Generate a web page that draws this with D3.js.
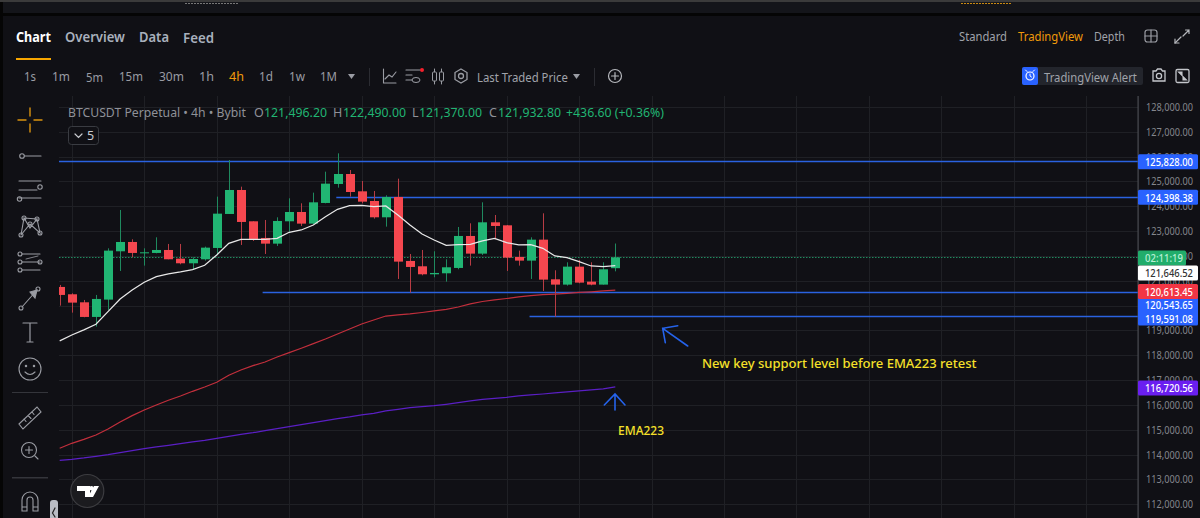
<!DOCTYPE html>
<html><head><meta charset="utf-8">
<script src="https://cdn.jsdelivr.net/npm/d3@7"></script>
<style>html,body{margin:0;padding:0;background:#101015;overflow:hidden}svg{display:block}text{font-family:"Noto Sans",sans-serif}</style>
</head><body><svg id="c" width="1200" height="518"></svg>
<script>
const opens=[120741,120446,120123,119533,120231,122177,122552,122110,122110,122230,121881,121694,121855,122311,123680,124646,123385,122714,122485,123385,123760,123291,124123,124888,125290,124592,124203,123546,124364,121788,121573,121251,121291,121506,122794,122083,123344,123223,121949,121801,122646,121049,120835,121559,120955,120835,121496.2];
const closes=[120419,120110,119533,120258,122204,122552,122110,122136,122230,121855,121694,121868,122324,123693,124646,123358,122673,122485,123398,123760,123291,124149,124901,125290,124565,124176,123546,124364,121761,121546,121251,121304,121533,122794,122083,123344,123197,121922,121801,122646,121036,120835,121559,120915,120835,121452,121932.8];
const highs=[120821,120486,120217,120419,122297,123841,122660,122297,122740,122472,122472,121935,122365,124378,125854,124780,123385,123438,123546,124311,124109,124539,125384,126122,125451,125008,124606,124431,125102,122069,122230,122177,121855,123156,123304,124149,123639,123237,122204,122740,123707,121412,121734,121828,121734,121734,122490];
const lows=[119989,119707,119520,119144,119815,121385,121935,121600,122096,121855,121653,121452,121801,122029,123680,122432,122593,122069,122391,122969,123197,123277,124109,124740,124378,124109,123492,123170,121063,120513,121210,121130,120955,121452,121600,122029,122660,121385,121600,121063,120580,119546,120794,120888,120808,120835,121370];
const emaWhite=[118567,118808,119010,119238,119748,120258,120620,120929,121157,121264,121345,121439,121613,122029,122499,122660,122660,122660,122700,122942,123036,123237,123572,123868,124015,124029,123975,124002,123639,123237,122875,122633,122418,122445,122459,122593,122700,122526,122432,122445,122297,121989,121922,121761,121586,121559,121600];
const emaRed=[114244,114445,114606,114779,115021,115303,115557,115786,115987,116177,116350,116539,116712,116902,117183,117397,117570,117719,117920,118094,118271,118456,118645,118847,119048,119249,119410,119571,119612,119652,119712,119773,119841,119934,120055,120155,120216,120276,120337,120389,120429,120457,120486,120518,120546,120578,120613];
const emaPurple=[113761,113801,113853,113922,113986,114067,114147,114228,114296,114365,114429,114498,114566,114647,114727,114808,114872,114953,115033,115114,115194,115275,115355,115436,115504,115585,115653,115746,115814,115879,115919,115959,116016,116080,116149,116217,116257,116298,116350,116390,116430,116471,116511,116551,116592,116632,116720];
const priceTicks=[128000,127000,126000,125000,124000,123000,122000,121000,120000,119000,118000,117000,116000,115000,114000,113000,112000];
const levelPrices=[125828,124398.38,120543.65,119591.08];
const levelStarts=[-1,22.9,16.8,38.9];
const lastClose=121932.8;
const tabs=["Chart","Overview","Data","Feed"];
const intervals=["1s","1m","5m","15m","30m","1h","4h","1d","1w","1M"];

const svg=d3.select("#c");
const BG="#101015",GREEN="#21b573",RED="#f5474f",ICON="#9a9ca3";
const x=d3.scaleLinear().domain([0,46]).range([59.7,615.3]);
const y=d3.scaleLinear().domain([128000,112000]).range([106.7,504]);
// fit a text to a measured width by horizontal scaling, so its real box matches what is drawn
const fit=(node,px,len)=>{const w=node.getComputedTextLength();
  d3.select(node).attr("x",0).attr("transform",`translate(${px},0) scale(${len/w},1)`);};
const txt=(s,px,py,o={})=>{const t=svg.append("text").attr("x",px).attr("y",py).text(s)
  .attr("font-size",o.size||12.5).attr("fill",o.fill||"#8f9198").attr("font-weight",o.weight||400)
  .attr("dominant-baseline","central");
  if(o.len)fit(t.node(),px,o.len);return t;};
const rect=(a,b,w,h,f,r)=>svg.append("rect").attr("x",a).attr("y",b).attr("width",w).attr("height",h).attr("fill",f).attr("rx",r||0);
const path=(d,o={})=>svg.append("path").attr("d",d).attr("fill",o.fill||"none").attr("stroke",o.stroke||ICON).attr("stroke-width",o.w||1.1).attr("stroke-linecap","round");
const circ=(a,b,r,o={})=>svg.append("circle").attr("cx",a).attr("cy",b).attr("r",r).attr("fill",o.fill||"none").attr("stroke",o.stroke||ICON).attr("stroke-width",o.w||1.1);

// chrome
rect(0,0,1200,518,BG);
rect(0,2,1200,11,"#14151a");
rect(0,13,1200,3,"#050505");
rect(0,0,3,518,"#050505");rect(0,0,1200,2,"#3b3b3b");
svg.append("line").attr("x1",185).attr("x2",238).attr("y1",3.5).attr("y2",3.5).attr("stroke","#777").attr("stroke-dasharray","2 1");
svg.append("line").attr("x1",961).attr("x2",1011).attr("y1",3.5).attr("y2",3.5).attr("stroke","#c98a12").attr("stroke-dasharray","2 1");

// tabs
[[16,35],[65,60],[139,30],[183,31]].forEach((p,i)=>txt(tabs[i],p[0],37,{size:14,weight:i?600:700,fill:i?"#a9b0bd":"#fff",len:p[1]}));
rect(16,58,35,2,"#f7a600");
txt("Standard",959,36,{fill:"#a0a3aa",len:48});
txt("TradingView",1018,36,{fill:"#f09a0a",len:65});
txt("Depth",1094,36,{fill:"#a0a3aa",len:31});
svg.append("rect").attr("x",1145).attr("y",30).attr("width",12).attr("height",12).attr("rx",2.5).attr("fill","none").attr("stroke",ICON).attr("stroke-width",1.2);
path("M1151 30V42M1145 36H1157",{w:1.2});
path("M1183 36L1189 30M1185.5 30H1189V33.5",{w:1.2,stroke:"#b5b7bc"});
path("M1181 37L1175 43",{w:1.2,stroke:"#b5b7bc"});path("M1175 39V43H1179",{w:1.2,stroke:"#b5b7bc"});

// intervals
[[24,12],[52,18],[86,17],[119,24],[159,25],[199,15],[229,15],[259,14],[289,16],[320,17]].forEach((p,i)=>
  txt(intervals[i],p[0],76.5,{fill:i===6?"#f09a0a":"#9a9ca3",len:p[1]}));
path("M348 74H355L351.5 79Z",{fill:ICON,stroke:"none"});
rect(369,68,1,18,"#2b2c32");
path("M383.5 69V83H396M385 79L389 75L392 77L396 72",{w:1.1});
path("M406 70H420M406 75H412M406 80H412",{w:1.2});
svg.append("ellipse").attr("cx",416).attr("cy",80).attr("rx",4).attr("ry",2.5).attr("fill","none").attr("stroke",ICON);
circ(422,70,2,{fill:"#f6202c",stroke:"none"});
path("M434.5 69V84M441.5 69V84",{w:1});
svg.append("rect").attr("x",432.5).attr("y",72).attr("width",4).attr("height",9).attr("rx",1).attr("fill",BG).attr("stroke",ICON);
svg.append("rect").attr("x",439.5).attr("y",72).attr("width",4).attr("height",9).attr("rx",1).attr("fill",BG).attr("stroke",ICON);
path("M461 69L467 72.5V79.5L461 83L455 79.5V72.5Z",{w:1.3});circ(461,76,2.5,{w:1.3});
txt("Last Traded Price",477,76.5,{fill:"#a0a3aa",len:91});
path("M573 74H580L576.5 79Z",{fill:ICON,stroke:"none"});
rect(594,68,1,18,"#2b2c32");
circ(615,76,6.5,{stroke:"#b5b7bc",w:1.2});path("M611.5 76H618.5M615 72.5V79.5",{stroke:"#b5b7bc",w:1.2});

// alert
rect(1022,67,121,18,"#23252c",2);
rect(1022,67,16,18,"#2962ff",2);
circ(1030,76,4,{stroke:"#fff",w:1.2});path("M1030 74V76L1031.5 77M1025.5 70L1027 71.5M1034.5 70L1033 71.5",{stroke:"#fff",w:1});
txt("TradingView Alert",1044,76.5,{fill:"#a0a3aa",len:93});
path("M1153 71H1156L1157.5 69H1161L1162.5 71H1165V81H1153Z",{stroke:"#c4c6cb",w:1.3});circ(1159,76,2.6,{stroke:"#c4c6cb",w:1.3});
svg.append("rect").attr("x",1176).attr("y",69.5).attr("width",13).attr("height",13).attr("rx",1.5).attr("fill","none").attr("stroke","#c4c6cb").attr("stroke-width",1.3);
path("M1178.5 72H1182V75.5ZM1186.5 80H1183V76.5Z",{fill:"#c4c6cb",stroke:"#c4c6cb"});

// chart clip
svg.append("defs").append("clipPath").attr("id","pane").append("rect").attr("x",59).attr("y",96).attr("width",1079).attr("height",422);
const pane=svg.append("g").attr("clip-path","url(#pane)");

// grid
const gy=d=>Math.floor(y(d)+.7)+.5;
pane.append("g").selectAll("line").data(priceTicks).join("line")
  .attr("x1",59).attr("x2",1138).attr("y1",gy).attr("y2",gy).attr("stroke","#1f2025");
pane.append("g").selectAll("line").data(d3.range(1,90,6)).join("line")
  .attr("x1",d=>Math.round(x(d))+.5).attr("x2",d=>Math.round(x(d))+.5).attr("y1",96).attr("y2",518).attr("stroke","#1f2025");

// last price dotted
pane.append("line").attr("x1",59).attr("x2",1138).attr("y1",Math.round(y(lastClose))+.5).attr("y2",Math.round(y(lastClose))+.5).attr("stroke","#1f8a5f").attr("stroke-dasharray","1.5 1.5");

// level lines
const ly=d=>Math.floor(y(d)+1)+.5;
pane.append("g").selectAll("line").data(levelPrices).join("line")
  .attr("x1",(d,i)=>x(levelStarts[i])).attr("x2",1138).attr("y1",ly).attr("y2",ly)
  .attr("stroke","#2a62e0").attr("stroke-width",1.3);

// candles
const idx=d3.range(opens.length);
const col=i=>closes[i]>=opens[i]?GREEN:RED;
pane.append("g").selectAll("line").data(idx).join("line")
  .attr("x1",i=>Math.round(x(i))+.5).attr("x2",i=>Math.round(x(i))+.5)
  .attr("y1",i=>y(highs[i])).attr("y2",i=>y(lows[i]))
  .attr("stroke",i=>closes[i]>=opens[i]?"#1f8a5f":"#b83c44");
pane.append("g").selectAll("rect").data(idx).join("rect")
  .attr("x",i=>Math.round(x(i))-4).attr("width",9)
  .attr("y",i=>y(Math.max(opens[i],closes[i])))
  .attr("height",i=>Math.max(1,Math.abs(y(opens[i])-y(closes[i]))))
  .attr("fill",col);

// EMAs
const ln=d3.line().x((d,i)=>x(i)).y(d=>y(d));
[[emaPurple,"#5a1fc4"],[emaRed,"#c22f3c"],[emaWhite,"#e8e8e8"]].forEach(([s,c])=>
  pane.append("path").datum(s).attr("d",ln).attr("fill","none").attr("stroke",c).attr("stroke-width",1.25));

// annotations
path("M687.7 346L662.7 328.3M677.7 325.7L662.7 328.3L665.3 342.7",{stroke:"#2563eb",w:1.6});
path("M615 410V394M604.3 405L615 394L625 405",{stroke:"#2563eb",w:1.6});
txt("New key support level before EMA223 retest",702,363,{size:13,weight:500,fill:"#f5e02a",len:275});
txt("EMA223",618,430,{size:13,weight:500,fill:"#f5e02a",len:46});

// axis
const axis=svg.append("g").attr("transform","translate(1138,0)")
  .call(d3.axisRight(y).tickValues(priceTicks).tickFormat(d3.format(",.2f")).tickSize(0).tickPadding(8));
axis.select(".domain").remove();
axis.selectAll("text").attr("font-size",11.5).attr("fill","#84868c").attr("font-family",'"Noto Sans",sans-serif')
  .each(function(){fit(this,8,47);});
rect(1137.5,96,1.2,422,"#4b4c52");

// header
txt("BTCUSDT Perpetual • 4h • Bybit",68,112,{len:178});
[["O",254],["H",333],["L",412],["C",489]].forEach(p=>txt(p[0],p[1],112));
[["121,496.20",264],["122,490.00",343],["121,370.00",419],["121,932.80",498]].forEach(p=>txt(p[0],p[1],112,{fill:GREEN,len:63}));
txt("+436.60 (+0.36%)",566,112,{fill:GREEN,len:98});
svg.append("rect").attr("x",68.5).attr("y",126.5).attr("width",30).attr("height",18).attr("rx",3).attr("fill",BG).attr("stroke","#3a3c42");
path("M75 134L78.5 137.5L82 134",{stroke:"#c9cbd0",w:1.2});
txt("5",87,135.5,{fill:"#c9cbd0"});

// price badges
const badge=(s,cy,f,tc,w,len)=>{rect(1138,cy-7.5,w||60,15,f,1.5);txt(s,1145,cy,{size:11.5,fill:tc,weight:500,len:len||48});};
badge("125,828.00",y(125828)+1,"#2962ff","#fff");
badge("124,398.38",y(124398.38)+1,"#2962ff","#fff");
rect(1138,297.5,60,28,"#2962ff",1.5);
badge("02:11:19",258,"#21ad6b","#b9f0d6",48,38);
badge("121,646.52",273,"#ffffff","#333");
badge("120,613.45",291.5,"#f23645","#fff");
txt("120,543.65",1145,305,{size:11.5,fill:"#fff",weight:500,len:48});
txt("119,591.08",1145,318.5,{size:11.5,fill:"#fff",weight:500,len:48});
badge("116,720.56",388,"#6a1ff0","#fff");

// left toolbar
const O="#d9920f";
path("M30 108V116M30 124V132M18 120H26M34 120H42",{stroke:O,w:1.4});
circ(22,156,2.3);path("M24.5 156H41");
path("M19 181H41M19 190H37M19 198H41");circ(40,187,2.2);circ(19.5,199,2.2);
path("M21 235L24 218L30 228L37 219L40 233L30 224L21 235M24 218L37 219");circ(21,235,2);circ(24,218,2);circ(37,219,2);circ(40,233,2);circ(30,224,2);
path("M22 254H40M22 262H40M22 270H40");circ(20,254,2);circ(20,262,2);circ(20,270,2);circ(40,262,2);path("M26 259L38 256",{w:.8});
path("M22 307L37 290");circ(21,308,2);circ(38,289,2);path("M30 292L37 290L35 298Z",{fill:ICON});
path("M23 323H37M30 323V342M27 342H33",{w:1.2});
circ(30,369,11);circ(26,366,.7,{fill:ICON});circ(34,366,.7,{fill:ICON});path("M25 372Q30 377 35 372");
rect(12,392,36,1,"#34353b");
path("M19 424L37 407L41 412L23 429ZM24 419L26 421.5M28 415.5L31 418.5M32 412L34 414.5");
circ(29,450,7.5);path("M25.5 450H32.5M29 446.5V453.5M35 456L38 459");
rect(12,477,36,1.5,"#34353b");
path("M22 511V500A8 8 0 0 1 38 500V511H33V500A3 3 0 0 0 27 500V511ZM22 507H27M33 507H38");

// collapse handle
rect(50,500,8,24,"#b9bcc4",3);path("M55 508L52.5 513L55 517",{stroke:"#222",w:1.2});

// TV logo
circ(87.3,491,16.5,{fill:"#1b1b1f",stroke:"#3c3c40",w:1.2});
svg.append("path").attr("d","M77 486H90V497H85V491H77ZM99 486L93 497H88L94 486Z").attr("fill","#fff");
circ(91.5,488.3,2.2,{fill:"#fff",stroke:"none"});
</script></body></html>
